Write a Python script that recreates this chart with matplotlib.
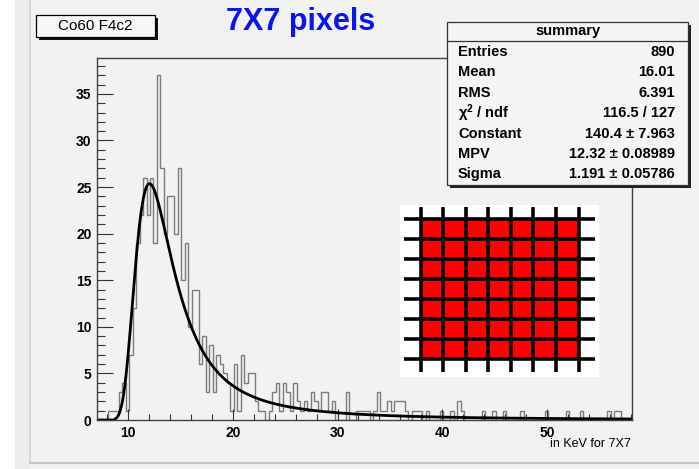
import numpy as np
import matplotlib
matplotlib.use('Agg')
import matplotlib.pyplot as plt
from matplotlib.patches import Rectangle
from matplotlib.lines import Line2D
from matplotlib.ticker import MultipleLocator

W, H = 699, 469

# ---------------- data ----------------
bin_start = 7.1
bin_width = 1.0 / 3.0
counts = [0, 0, 0,
          1, 1, 1, 3, 4, 1,
          7, 12, 19, 22, 26, 22, 26, 19,
          37, 27, 20, 24, 24, 20, 27,
          15, 19, 10, 14, 14, 6, 9,
          3, 8, 3, 7, 6, 5, 4, 1,
          6, 1, 7, 4, 5, 5,
          2, 1, 1, 0, 1, 3,
          4, 1, 4, 3, 1, 4,
          2, 1, 2, 1, 3, 2,
          1, 3, 3, 1, 2, 0,
          0, 0, 3, 0, 0, 1,
          1, 1, 1, 0, 1, 3,
          1, 1, 2, 1, 2, 2,
          2, 1, 0, 1, 1, 1,
          0, 1, 0, 0, 0, 1,
          0, 0, 1, 0, 2, 1,
          0, 0, 0, 0, 0, 1,
          0, 0, 1, 0, 0, 1,
          0, 0, 0, 0, 1, 0,
          0, 0, 0, 0, 0, 1,
          0, 0, 0, 0, 0, 1,
          0, 0, 0, 1, 0, 0,
          0, 0, 0, 0, 0, 1,
          0, 1, 1, 0, 0, 0]

fit_constant = 140.4
fit_mpv = 12.32
fit_sigma = 1.191

stat_title = "summary"
stat_labels = ["Entries", "Mean", "RMS", r"$\chi^{2}$ / ndf", "Constant", "MPV", "Sigma"]
stat_values = ["890", "16.01", "6.391", "116.5 / 127", "140.4 \u00b1 7.963",
               "12.32 \u00b1 0.08989", "1.191 \u00b1 0.05786"]

x_ticks = [10, 20, 30, 40, 50]
y_ticks = [0, 5, 10, 15, 20, 25, 30, 35]
x_range = (7.04, 58.11)
y_range = (0, 38.85)

hist_name = "Co60 F4c2"
main_title = "7X7 pixels"
x_label = "in KeV for 7X7"
n_pix = 7

# ---------------- helpers ----------------
plt.rcParams['font.family'] = ['Liberation Sans', 'DejaVu Sans']
plt.rcParams['font.weight'] = 'bold'
plt.rcParams['mathtext.default'] = 'regular'


def fx(x):
    return x / W


def fy(y):
    return 1 - y / H


def landau(lam):
    t = np.linspace(1e-9, 50, 25001)
    tlt = t * np.log(t)
    st = np.sin(np.pi * t)
    out = np.zeros_like(lam)
    for i, l in enumerate(lam):
        if l < -3.0:
            continue
        out[i] = np.trapezoid(np.exp(-l * t - tlt) * st, t) / np.pi
    return out


fig = plt.figure(figsize=(W / 100, H / 100), dpi=100)
fig.patch.set_facecolor('#f2f2f2')

# pad decoration
fig.patches.append(Rectangle((0, 0), fx(15), 1, transform=fig.transFigure,
                             facecolor='white', edgecolor='none', zorder=0))
fig.patches.append(Rectangle((fx(15), 0), fx(15), 1, transform=fig.transFigure,
                             facecolor='#ededed', edgecolor='none', zorder=0))
fig.lines.append(Line2D([fx(30), fx(30)], [fy(463), 1], transform=fig.transFigure,
                        color='#d2d2d2', lw=1.2))
fig.lines.append(Line2D([fx(30), 1], [fy(463), fy(463)], transform=fig.transFigure,
                        color='#c4c4c4', lw=1.6))

# ---------------- main axes ----------------
ax = fig.add_axes([fx(97), fy(420), fx(632) - fx(97), fy(58) - fy(420)])
ax.set_facecolor('none')
edges = bin_start + bin_width * np.arange(len(counts) + 1)
ax.stairs(counts, edges, color='#7c7c7c', lw=1.0, baseline=0)

xf = np.linspace(x_range[0], x_range[1], 500)
yf = fit_constant * landau((xf - fit_mpv) / fit_sigma)
ax.plot(xf, yf, color='black', lw=2.0)

ax.set_xlim(*x_range)
ax.set_ylim(*y_range)
ax.set_xticks(x_ticks)
ax.set_yticks(y_ticks)
ax.xaxis.set_minor_locator(MultipleLocator(2))
ax.yaxis.set_minor_locator(MultipleLocator(1))
ax.tick_params(axis='x', which='major', direction='in', length=8, width=0.8,
               labelsize=10, pad=4, colors='#333333', labelcolor='black')
ax.tick_params(axis='x', which='minor', direction='in', length=4, width=0.8, colors='#333333')
ax.tick_params(axis='y', which='major', direction='in', length=11.5, width=0.8,
               labelsize=10, pad=4, colors='#333333', labelcolor='black')
ax.tick_params(axis='y', which='minor', direction='in', length=5.8, width=0.8, colors='#333333')
for lab in ax.get_xticklabels() + ax.get_yticklabels():
    lab.set_fontweight('bold')
for s in ax.spines.values():
    s.set_color('#404040')
    s.set_linewidth(1.0)

# x-axis title (right aligned under axis end)
fig.text(fx(631), fy(444), x_label, ha='right', va='center', fontsize=9,
         fontweight='normal', color='black')

# ---------------- title ----------------
fig.text(fx(301), fy(22), main_title, ha='center', va='center', fontsize=22,
         fontweight='bold', color='#0a14f0')

# ---------------- histogram name box ----------------
bx0, by0, bx1, by1 = 36, 15, 155, 37
fig.patches.append(Rectangle((fx(bx0 + 3), fy(by1 + 3)), fx(bx1 - bx0), fy(by0) - fy(by1),
                             transform=fig.transFigure, facecolor='#111111',
                             edgecolor='none', zorder=2))
fig.patches.append(Rectangle((fx(bx0), fy(by1)), fx(bx1 - bx0), fy(by0) - fy(by1),
                             transform=fig.transFigure, facecolor='#f7f7f7',
                             edgecolor='black', lw=0.9, zorder=3))
fig.text(fx((bx0 + bx1) / 2), fy((by0 + by1) / 2 + 0.5), hist_name, ha='center', va='center',
         fontsize=11, fontweight='normal', color='black', zorder=4)

# ---------------- stats box ----------------
sx0, sy0, sx1, sy1 = 447, 22, 688, 185
fig.patches.append(Rectangle((fx(sx0 + 3), fy(sy1 + 3)), fx(sx1 - sx0), fy(sy0) - fy(sy1),
                             transform=fig.transFigure, facecolor='#222222',
                             edgecolor='none', zorder=2))
fig.patches.append(Rectangle((fx(sx0), fy(sy1)), fx(sx1 - sx0), fy(sy0) - fy(sy1),
                             transform=fig.transFigure, facecolor='#f5f5f5',
                             edgecolor='#333333', lw=0.9, zorder=3))
fig.lines.append(Line2D([fx(sx0), fx(sx1)], [fy(41), fy(41)], transform=fig.transFigure,
                        color='#333333', lw=0.9, zorder=4))
fig.text(fx((sx0 + sx1) / 2), fy(31), stat_title, ha='center', va='center',
         fontsize=10.5, fontweight='bold', zorder=5)
row_y0, row_dy = 52, 20.4
for i, (lab, val) in enumerate(zip(stat_labels, stat_values)):
    yy = row_y0 + i * row_dy
    fig.text(fx(458), fy(yy), lab, ha='left', va='center', fontsize=10.5,
             fontweight='bold', zorder=5)
    fig.text(fx(675), fy(yy), val, ha='right', va='center', fontsize=10.5,
             fontweight='bold', zorder=5)

# ---------------- 7x7 pixel inset ----------------
ix0, iy0, ix1, iy1 = 400, 205, 599, 377
iax = fig.add_axes([fx(ix0), fy(iy1), fx(ix1 - ix0), fy(iy0) - fy(iy1)])
iax.set_xlim(ix0, ix1)
iax.set_ylim(iy1, iy0)
iax.set_facecolor('white')
iax.set_xticks([])
iax.set_yticks([])
for s in iax.spines.values():
    s.set_visible(False)
gx0, gx1, gy0, gy1 = 420.5, 578.5, 218.5, 358.5
iax.add_patch(Rectangle((gx0, gy0), gx1 - gx0, gy1 - gy0, facecolor='#ff0000',
                        edgecolor='none'))
for i in range(n_pix + 1):
    xv = gx0 + i * (gx1 - gx0) / n_pix
    iax.plot([xv, xv], [207, 372], color='black', lw=2.6, solid_capstyle='butt')
    yv = gy0 + i * (gy1 - gy0) / n_pix
    iax.plot([404, 595], [yv, yv], color='black', lw=2.6, solid_capstyle='butt')

fig.savefig('out.png', dpi=100, facecolor=fig.get_facecolor())
